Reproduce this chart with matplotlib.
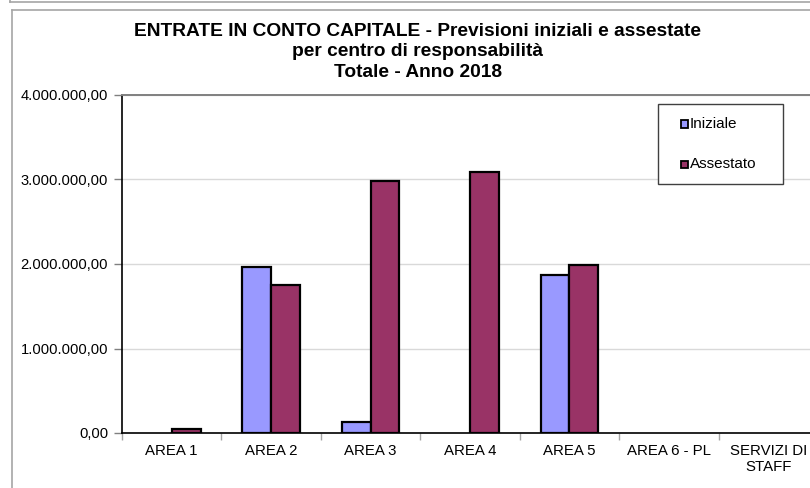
import matplotlib
matplotlib.use("Agg")
from matplotlib import pyplot as plt
from matplotlib.patches import Rectangle
from matplotlib.lines import Line2D
from matplotlib.ticker import FuncFormatter, FixedLocator
import numpy as np

plt.rcParams["font.family"] = ["Liberation Sans", "DejaVu Sans"]

categories = ["AREA 1", "AREA 2", "AREA 3", "AREA 4", "AREA 5",
              "AREA 6 - PL", "SERVIZI DI\nSTAFF"]
series_names = ["Iniziale", "Assestato"]
iniziale = [0, 1968000, 127000, 0, 1870000, 0, 0]
assestato = [47000, 1748000, 2985000, 3088000, 1990000, 0, 0]

col_ini = "#9999FF"
col_ass = "#993366"

W, H = 810, 488
fig = plt.figure(figsize=(W / 100, H / 100), dpi=100)

# frame lines of the sheet
frame = "#a6a6a6"
fig.add_artist(Line2D([10 / W, 1], [1 - 2 / H, 1 - 2 / H], color=frame, lw=1.2))
fig.add_artist(Line2D([10 / W, 10 / W], [1, 1 - 2 / H], color=frame, lw=1.2))
fig.add_artist(Line2D([12 / W, 1], [1 - 10 / H, 1 - 10 / H], color=frame, lw=1.2))
fig.add_artist(Line2D([12 / W, 12 / W], [0, 1 - 10 / H], color=frame, lw=1.2))

left, right, top, bottom = 122, 818, 95, 433
ax = fig.add_axes([left / W, 1 - bottom / H, (right - left) / W, (bottom - top) / H])

x = np.arange(len(categories))
bw = 0.29
ini = np.array(iniziale, dtype=float)
ass = np.array(assestato, dtype=float)
# zero values are not drawn at all
ax.bar(x[ini > 0] - bw / 2, ini[ini > 0], bw, color=col_ini, edgecolor="black", lw=1.6, zorder=3)
ax.bar(x[ass > 0] + bw / 2, ass[ass > 0], bw, color=col_ass, edgecolor="black", lw=1.6, zorder=3)

ax.set_xlim(-0.5, len(categories) - 0.5)
ax.set_ylim(0, 4000000)
ax.set_yticks(np.arange(0, 4000001, 1000000))
ax.yaxis.set_major_formatter(FuncFormatter(
    lambda v, p: "{:,.2f}".format(v).replace(",", "X").replace(".", ",").replace("X", ".")))
ax.yaxis.grid(True, color="#d9d9d9", lw=1, zorder=0)

ax.xaxis.set_major_locator(FixedLocator(np.arange(-0.5, len(categories), 1.0)))
ax.set_xticklabels([])
ax.xaxis.set_minor_locator(FixedLocator(x))
ax.set_xticklabels(categories, minor=True)
ax.tick_params(axis="x", which="major", length=5, color="#a6a6a6", width=1)
ax.tick_params(axis="x", which="minor", length=0, pad=8, labelsize=10.8)
ax.tick_params(axis="y", length=6, width=1, color="#808080", labelsize=10.6, pad=4)

for s in ["left", "bottom"]:
    ax.spines[s].set_color("black")
    ax.spines[s].set_linewidth(1.2)
ax.spines["top"].set_color("#808080")
ax.spines["top"].set_linewidth(1.4)
ax.spines["right"].set_color("#808080")

fig.text(418 / W, 1 - 52 / H,
         "ENTRATE IN CONTO CAPITALE - Previsioni iniziali e assestate\n"
         "per centro di responsabilità\nTotale - Anno 2018",
         ha="center", va="center", fontsize=13.8, fontweight="bold", linespacing=1.3)

# legend box drawn as in the sheet
fig.add_artist(Rectangle((658 / W, 1 - 184 / H), 125 / W, 80 / H, transform=fig.transFigure,
                         facecolor="white", edgecolor="#404040", lw=1.0, zorder=5))
for name, col, yc in zip(series_names, [col_ini, col_ass], [124, 164]):
    fig.add_artist(Rectangle((681 / W, 1 - (yc + 3.5) / H), 7 / W, 7 / H, transform=fig.transFigure,
                             facecolor=col, edgecolor="black", lw=1.3, zorder=6))
    fig.text(690 / W, 1 - yc / H, name, ha="left", va="center", fontsize=11, zorder=6)

fig.savefig("out.png", dpi=100)
